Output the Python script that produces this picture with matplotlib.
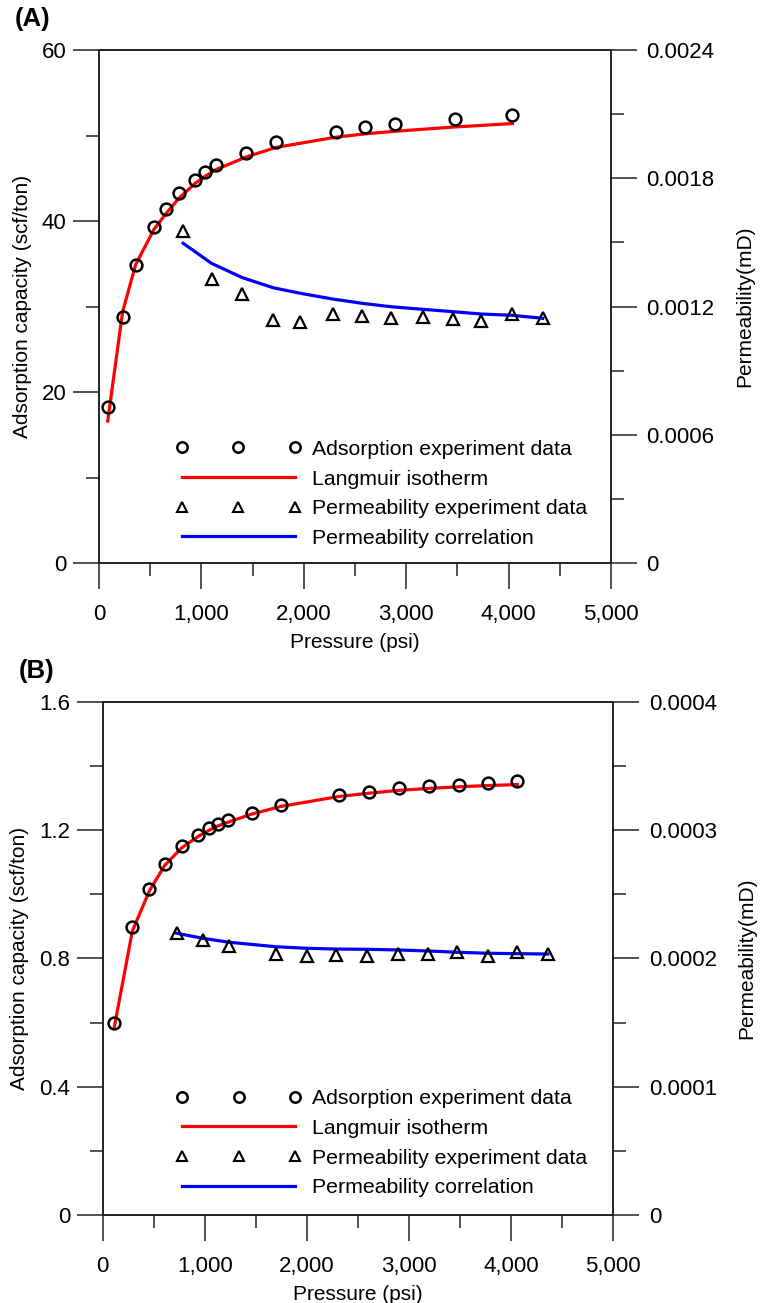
import matplotlib
matplotlib.use('Agg')
import matplotlib.pyplot as plt
import matplotlib.ticker as mtick
from matplotlib.lines import Line2D

plt.rcParams['font.family'] = ['Liberation Sans', 'DejaVu Sans']
plt.rcParams['font.size'] = 15

# Panel (A) -- adsorption isotherm and permeability
ads_p_a = [85, 231, 358, 536, 656, 783, 939, 1033, 1140, 1440, 1725, 2310, 2600, 2892, 3473, 4038]
ads_v_a = [18.2, 28.8, 34.9, 39.3, 41.4, 43.3, 44.8, 45.7, 46.5, 48.0, 49.2, 50.4, 51.0, 51.3, 51.9, 52.4]
lang_v_a = [16.6, 29.4, 34.9, 39.0, 40.9, 42.7, 44.4, 45.2, 46.0, 47.5, 48.6, 49.8, 50.2, 50.5, 51.0, 51.4]
perm_p_a = [822, 1099, 1401, 1700, 1966, 2284, 2571, 2854, 3162, 3455, 3732, 4031, 4333]
perm_k_a = [0.001555, 0.001329, 0.001258, 0.001135, 0.001129, 0.001164, 0.001157, 0.001145,
            0.001152, 0.001143, 0.001132, 0.001165, 0.001145]
corr_k_a = [0.001496, 0.001402, 0.001335, 0.001288, 0.001262, 0.001235, 0.001215, 0.001199,
            0.001187, 0.001176, 0.001165, 0.001159, 0.001145]

# Panel (B)
ads_p_b = [114, 290, 456, 607, 774, 933, 1044, 1129, 1230, 1459, 1746, 2317, 2608, 2901, 3195, 3486, 3770, 4060]
ads_v_b = [0.600, 0.897, 1.016, 1.095, 1.149, 1.184, 1.206, 1.220, 1.230, 1.253, 1.279, 1.310,
           1.320, 1.331, 1.336, 1.341, 1.347, 1.352]
lang_v_b = [0.587, 0.885, 1.010, 1.090, 1.145, 1.180, 1.200, 1.213, 1.225, 1.250, 1.274, 1.305,
            1.315, 1.324, 1.330, 1.335, 1.339, 1.342]
perm_p_b = [725, 979, 1237, 1697, 1998, 2285, 2585, 2892, 3185, 3472, 3776, 4060, 4358]
perm_k_b = [0.0002196, 0.0002143, 0.0002097, 0.0002032, 0.0002019, 0.0002026, 0.0002019,
            0.0002034, 0.0002032, 0.0002048, 0.0002019, 0.0002048, 0.0002032]
corr_k_b = [0.0002196, 0.0002157, 0.0002126, 0.0002091, 0.0002079, 0.0002073, 0.0002071,
            0.0002066, 0.0002058, 0.0002048, 0.0002040, 0.0002037, 0.0002034]

legend_labels = ['Adsorption experiment data', 'Langmuir isotherm',
                 'Permeability experiment data', 'Permeability correlation']

SPINE = '#222222'


def style_axes(ax, ax2):
    for a in (ax, ax2):
        for s in a.spines.values():
            s.set_color(SPINE)
            s.set_linewidth(1.2)
    ax.tick_params(which='major', direction='out', length=18.5, width=1.1, color=SPINE, labelsize=16)
    ax.tick_params(which='minor', direction='out', length=9.5, width=1.1, color=SPINE)
    ax.tick_params(axis='y', which='both', pad=5)
    ax.tick_params(axis='x', which='both', pad=11)
    ax2.tick_params(which='major', direction='out', length=18.5, width=1.1, color=SPINE,
                    pad=7, labelsize=16)
    ax2.tick_params(which='minor', direction='out', length=9.5, width=1.1, color=SPINE)


def zero_fmt(decimals):
    return mtick.FuncFormatter(lambda v, _: '0' if abs(v) < 1e-12 else f'{v:.{decimals}f}')


def panel(ax, tag, ads_p, ads_v, lang_v, perm_p, perm_k, corr_k,
          ymax, ystep, kmax, kstep, ydec, kdec, leg_anchor):
    ax2 = ax.twinx()

    ax.plot(ads_p, lang_v, color='red', lw=2.3, zorder=2)
    ax.plot(ads_p, ads_v, ls='none', marker='o', ms=8.5, mfc='none', mec='black', mew=1.8, zorder=3)
    ax2.plot(perm_p, corr_k, color='blue', lw=2.3, zorder=2)
    ax2.plot(perm_p, perm_k, ls='none', marker='^', ms=8.5, mfc='none', mec='black', mew=1.6, zorder=3)

    ax.set_xlim(0, 5000)
    ax.set_ylim(0, ymax)
    ax2.set_ylim(0, kmax)
    ax.xaxis.set_major_locator(mtick.MultipleLocator(1000))
    ax.xaxis.set_minor_locator(mtick.MultipleLocator(500))
    ax.xaxis.set_major_formatter(mtick.StrMethodFormatter('{x:,.0f}'))
    ax.yaxis.set_major_locator(mtick.MultipleLocator(ystep))
    ax.yaxis.set_minor_locator(mtick.MultipleLocator(ystep / 2))
    ax.yaxis.set_major_formatter(zero_fmt(ydec))
    ax2.yaxis.set_major_locator(mtick.MultipleLocator(kstep))
    ax2.yaxis.set_minor_locator(mtick.MultipleLocator(kstep / 2))
    ax2.yaxis.set_major_formatter(zero_fmt(kdec))

    style_axes(ax, ax2)

    ax.set_xlabel('Pressure (psi)', labelpad=6)
    ax.set_ylabel('Adsorption capacity (scf/ton)', labelpad=7)
    ax2.set_ylabel('Permeability(mD)', labelpad=15)

    handles = [
        Line2D([], [], ls='none', marker='o', ms=7.5, mfc='none', mec='black', mew=1.8),
        Line2D([], [], color='red', lw=2.3),
        Line2D([], [], ls='none', marker='^', ms=7.5, mfc='none', mec='black', mew=1.5),
        Line2D([], [], color='blue', lw=2.3),
    ]
    ax2.legend(handles, legend_labels, loc='upper left', bbox_to_anchor=leg_anchor,
               frameon=False, numpoints=3, handlelength=5.9, handletextpad=0.5,
               labelspacing=0.5, borderpad=0, borderaxespad=0, fontsize=15.3)

    ax.text(-0.165, 1.06, tag, transform=ax.transAxes, fontsize=18.5, fontweight='bold',
            ha='left', va='center')


fig = plt.figure(figsize=(7.62, 13.03), dpi=100)
ax_a = fig.add_axes([0.1299, 0.5679, 0.6719, 0.3937])
ax_b = fig.add_axes([0.1348, 0.0675, 0.6701, 0.3939])

panel(ax_a, '(A)', ads_p_a, ads_v_a, lang_v_a, perm_p_a, perm_k_a, corr_k_a,
      60, 20, 0.0024, 0.0006, 0, 4, (0.150, 0.240))
panel(ax_b, '(B)', ads_p_b, ads_v_b, lang_v_b, perm_p_b, perm_k_b, corr_k_b,
      1.6, 0.4, 0.0004, 0.0001, 1, 4, (0.1436, 0.245))

fig.savefig('out.png', dpi=100)
